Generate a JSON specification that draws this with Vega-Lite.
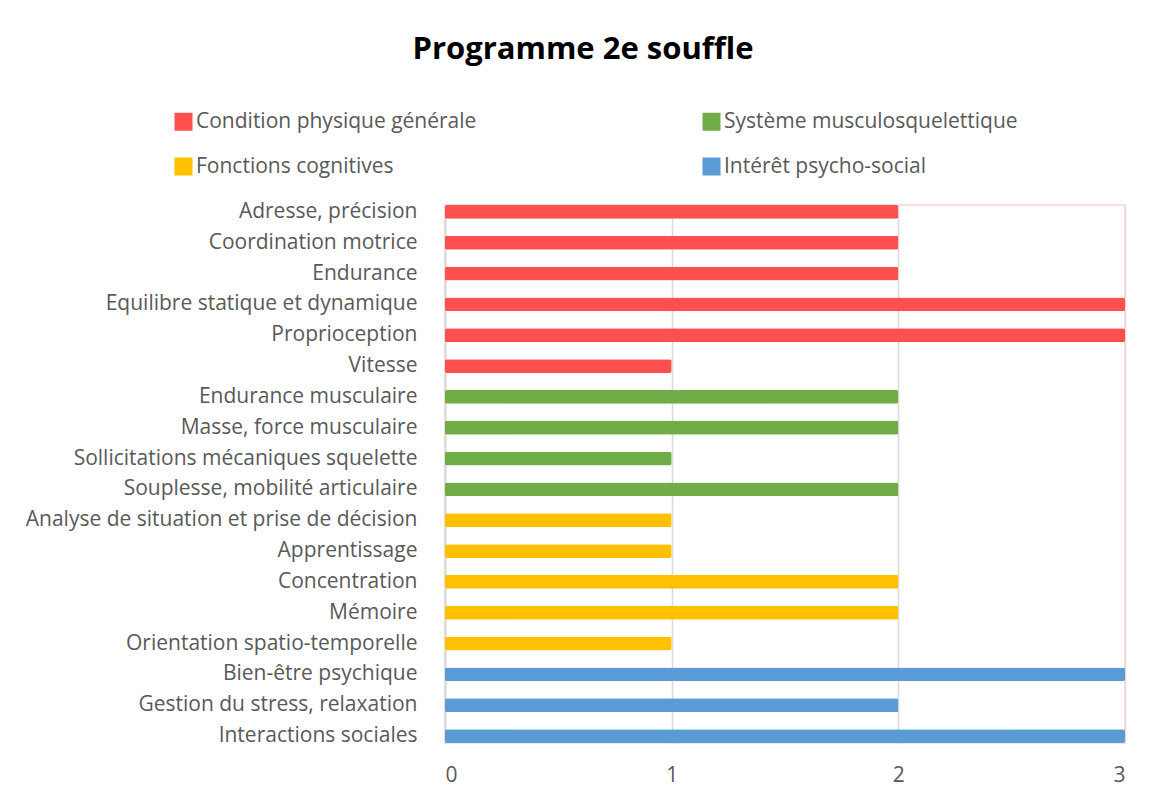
{
  "$schema": "https://vega.github.io/schema/vega-lite/v6.json",
  "autosize": {"type": "none"},
  "width": 680,
  "height": 538,
  "padding": {"left": 445, "top": 205, "right": 27, "bottom": 57},
  "background": "white",
  "title": {
    "text": "Programme 2e souffle",
    "anchor": "middle",
    "dx": -202,
    "offset": 21,
    "baseline": "alphabetic",
    "fontSize": 31,
    "font": "Open Sans",
    "fontWeight": "bold",
    "color": "#000000"
  },
  "data": {
    "values": [
      {"item": "Adresse, précision", "groupe": "Condition physique générale", "valeur": 2},
      {"item": "Coordination motrice", "groupe": "Condition physique générale", "valeur": 2},
      {"item": "Endurance", "groupe": "Condition physique générale", "valeur": 2},
      {"item": "Equilibre statique et dynamique", "groupe": "Condition physique générale", "valeur": 3},
      {"item": "Proprioception", "groupe": "Condition physique générale", "valeur": 3},
      {"item": "Vitesse", "groupe": "Condition physique générale", "valeur": 1},
      {"item": "Endurance musculaire", "groupe": "Système musculosquelettique", "valeur": 2},
      {"item": "Masse,  force musculaire", "groupe": "Système musculosquelettique", "valeur": 2},
      {"item": "Sollicitations mécaniques squelette", "groupe": "Système musculosquelettique", "valeur": 1},
      {"item": "Souplesse, mobilité articulaire", "groupe": "Système musculosquelettique", "valeur": 2},
      {"item": "Analyse de situation et prise de décision", "groupe": "Fonctions cognitives", "valeur": 1},
      {"item": "Apprentissage", "groupe": "Fonctions cognitives", "valeur": 1},
      {"item": "Concentration", "groupe": "Fonctions cognitives", "valeur": 2},
      {"item": "Mémoire", "groupe": "Fonctions cognitives", "valeur": 2},
      {"item": "Orientation spatio-temporelle", "groupe": "Fonctions cognitives", "valeur": 1},
      {"item": "Bien-être psychique", "groupe": "Intérêt psycho-social", "valeur": 3},
      {"item": "Gestion du stress, relaxation", "groupe": "Intérêt psycho-social", "valeur": 2},
      {"item": "Interactions sociales", "groupe": "Intérêt psycho-social", "valeur": 3}
    ]
  },
  "mark": {"type": "bar", "cornerRadius": 2},
  "encoding": {
    "y": {
      "field": "item",
      "type": "nominal",
      "sort": null,
      "scale": {"paddingInner": 0.55, "paddingOuter": 0},
      "axis": {
        "title": null,
        "ticks": false,
        "domain": true,
        "domainColor": "#D9D9D9",
        "domainWidth": 2,
        "labelFont": "Open Sans",
        "labelFontSize": 21,
        "labelColor": "#595959",
        "labelPadding": 28,
        "labelLimit": 500
      }
    },
    "x": {
      "field": "valeur",
      "type": "quantitative",
      "scale": {"domain": [0, 3], "nice": false},
      "axis": {
        "title": null,
        "values": [0, 1, 2, 3],
        "ticks": false,
        "domain": false,
        "grid": true,
        "gridColor": {"condition": {"test": "datum.value === 3", "value": "#F6D3D3"}, "value": "#D9D9D9"},
        "gridWidth": 1.5,
        "labelFont": "Open Sans",
        "labelFontSize": 21,
        "labelColor": "#595959",
        "labelPadding": 21,
        "format": "d"
      }
    },
    "color": {
      "field": "groupe",
      "type": "nominal",
      "scale": {
        "domain": ["Condition physique générale", "Fonctions cognitives", "Système musculosquelettique", "Intérêt psycho-social"],
        "range": ["#FF5050", "#FFC000", "#70AD47", "#5B9BD5"]
      },
      "legend": {
        "title": null,
        "orient": "none",
        "legendX": -272,
        "legendY": -94,
        "columns": 2,
        "columnPadding": 224,
        "rowPadding": 23,
        "symbolType": "square",
        "symbolSize": 324,
        "symbolStrokeWidth": 0,
        "labelFont": "Open Sans",
        "labelFontSize": 21,
        "labelColor": "#595959",
        "labelOffset": 2,
        "labelLimit": 500
      }
    }
  },
  "config": {
    "view": {"stroke": "#F6D3D3", "strokeWidth": 1.5}
  }
}
